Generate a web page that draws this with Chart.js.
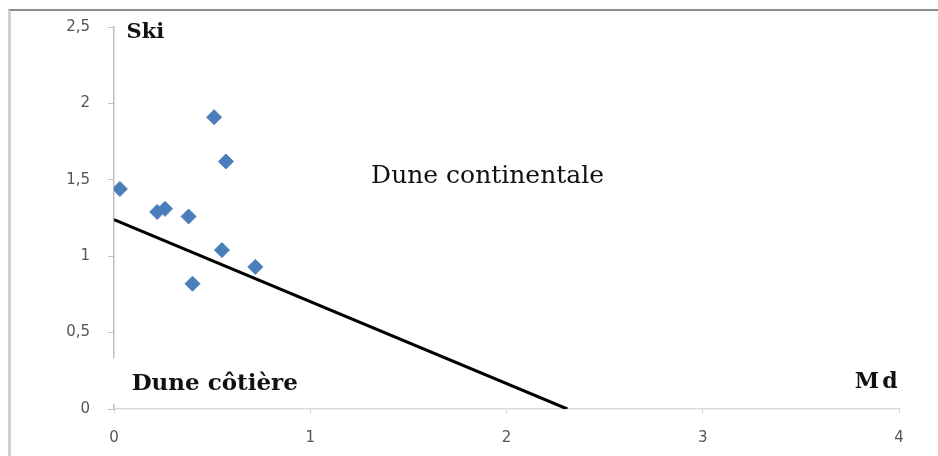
<!DOCTYPE html>
<html>
<head>
<meta charset="utf-8">
<script src="https://cdn.jsdelivr.net/npm/chart.js@4"></script>
<style>
  html, body { margin: 0; padding: 0; background: #fff; overflow: hidden; }
  #frame { position: absolute; left: 8px; top: 9px; width: 927px; height: 445px;
           border-top: 2px solid #8c8c8c; border-left: 3px solid #cfcfcf; }
  #wrap { position: absolute; left: 0; top: 0; width: 938px; height: 456px; }
</style>
</head>
<body>
<div id="frame"></div>
<div id="wrap"><canvas id="chartSki"></canvas></div>
<script>
// Échantillons (Md, Ski)
const mdValues  = [0.03, 0.51, 0.57, 0.22, 0.26, 0.38, 0.55, 0.72, 0.40];
const skiValues = [1.44, 1.91, 1.62, 1.29, 1.31, 1.26, 1.04, 0.93, 0.82];

// Limite dune côtière / dune continentale
const limitMd  = [0, 2.31];
const limitSki = [1.24, 0];

const xTicks = [0, 1, 2, 3, 4];
const yTicks = [0, 0.5, 1, 1.5, 2, 2.5];

// Textes posés sur le graphique (coordonnées en valeurs Md / Ski)
const labels = [
  { text: 'Ski', x: 0.064, y: 2.425, font: 'bold 21px "DejaVu Serif"', spacing: '0px' },
  { text: 'Dune continentale', x: 1.31, y: 1.48, font: '25px "DejaVu Serif"', spacing: '0px' },
  { text: 'Dune côtière', x: 0.09, y: 0.123, font: 'bold 23px "DejaVu Serif"', spacing: '0px', box: true },
  { text: 'Md', x: 3.775, y: 0.135, font: 'bold 22px "DejaVu Serif"', spacing: '3px' }
];

const textPlugin = {
  id: 'zoneLabels',
  afterDatasetsDraw(chart) {
    const { ctx, scales: { x, y } } = chart;
    ctx.save();
    labels.forEach(l => {
      const px = x.getPixelForValue(l.x);
      const py = y.getPixelForValue(l.y);
      if (l.box) {
        ctx.fillStyle = '#fff';
        ctx.fillRect(px - 20, py - 32, 190, 46);
      }
      ctx.font = l.font;
      ctx.letterSpacing = l.spacing;
      ctx.fillStyle = '#111';
      ctx.textAlign = 'left';
      ctx.textBaseline = 'alphabetic';
      ctx.fillText(l.text, px, py);
    });
    ctx.restore();
  }
};

new Chart(document.getElementById('chartSki'), {
  type: 'scatter',
  data: {
    datasets: [
      {
        label: 'Échantillons',
        data: mdValues.map((v, i) => ({ x: v, y: skiValues[i] })),
        backgroundColor: '#4a7ebb',
        borderColor: '#4a7ebb',
        pointStyle: 'rectRot',
        pointRadius: 7.5,
        order: 0
      },
      {
        type: 'line',
        label: 'Limite',
        data: limitMd.map((v, i) => ({ x: v, y: limitSki[i] })),
        borderColor: '#000',
        borderWidth: 3,
        pointRadius: 0,
        fill: false,
        order: 1
      }
    ]
  },
  options: {
    responsive: true, maintainAspectRatio: false, animation: false,
    layout: { padding: { left: 0, right: 39, top: 22, bottom: 0 } },
    plugins: { legend: { display: false }, tooltip: { enabled: false } },
    scales: {
      x: {
        type: 'linear', min: 0, max: 4,
        afterBuildTicks: s => { s.ticks = xTicks.map(v => ({ value: v })); },
        afterFit: s => { s.height = 47; },
        grid: { drawOnChartArea: false, drawTicks: true, tickLength: 4, color: '#cfcfcf' },
        border: { color: '#d9d9d9', width: 1.5 },
        ticks: { color: '#555', padding: 16, font: { family: 'DejaVu Sans', size: 15 } }
      },
      y: {
        type: 'linear', min: 0, max: 2.5,
        afterBuildTicks: s => { s.ticks = yTicks.map(v => ({ value: v })); },
        afterFit: s => { s.width = 114; },
        grid: { drawOnChartArea: false, drawTicks: true, tickLength: 6, color: '#bfbfbf' },
        border: { color: '#bfbfbf', width: 1.5 },
        ticks: {
          color: '#555', padding: 18, font: { family: 'DejaVu Sans', size: 15 },
          callback: v => String(v).replace('.', ',')
        }
      }
    }
  },
  plugins: [textPlugin]
});
</script>
</body>
</html>
